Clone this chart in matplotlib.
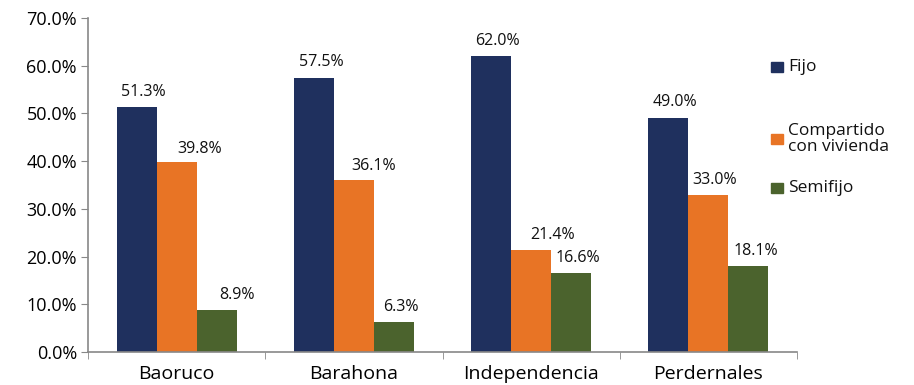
import matplotlib
matplotlib.use("Agg")
import matplotlib.pyplot as plt
import numpy as np
from matplotlib.patches import Rectangle

categories = ["Baoruco", "Barahona", "Independencia", "Perdernales"]
series_names = ["Fijo", "Compartido\ncon vivienda", "Semifijo"]
fijo = [51.3, 57.5, 62.0, 49.0]
compartido = [39.8, 36.1, 21.4, 33.0]
semifijo = [8.9, 6.3, 16.6, 18.1]
yticks = [0, 10, 20, 30, 40, 50, 60, 70]

# label placement nudges (pixels), per series / category
label_dx = [[7, 7, 6, 7], [23, 20, 21, 6], [20, 7, 7, 7]]
label_dy = [[15, 16, 15, 16], [13, 14, 15, 15], [15, 15, 15, 15]]

colors = ["#1F305E", "#E87425", "#4B632D"]
plt.rcParams['font.family'] = ['Open Sans', 'DejaVu Sans']

fig = plt.figure(figsize=(9.14, 3.85), dpi=100)
ax = fig.add_axes([0.0963, 0.0857, 0.7757, 0.8673])

x = np.arange(len(categories))
w = 0.226
for i, (vals, c) in enumerate(zip([fijo, compartido, semifijo], colors)):
    pos = x + (i - 1) * w
    ax.bar(pos, vals, width=w, color=c, edgecolor='none')
    for j, (p, v) in enumerate(zip(pos, vals)):
        ax.annotate(f"{v:.1f}%", (p, v), xytext=(label_dx[i][j], label_dy[i][j]),
                    textcoords='offset pixels', ha='center', va='center',
                    fontsize=11.5, color='#111111')

ax.set_xlim(-0.5, len(categories) - 0.5)
ax.set_ylim(0, 70)
ax.set_yticks(yticks)
ax.set_yticklabels([f"{t:.1f}%" for t in yticks], fontsize=13)
ax.set_xticks(x)
ax.set_xticklabels(categories, fontsize=14)
ax.set_xticks(np.arange(len(categories) + 1) - 0.5, minor=True)
ax.tick_params(axis='x', which='major', length=0, pad=9)
ax.tick_params(axis='x', which='minor', length=5, color='#888888', direction='out')
ax.tick_params(axis='y', length=5, color='#888888', pad=3)
for s in ['top', 'right']:
    ax.spines[s].set_visible(False)
for s in ['left', 'bottom']:
    ax.spines[s].set_color('#888888')
    ax.spines[s].set_linewidth(1.2)

# legend
W, H = 914, 385
legend_y = [67, 139, 188]
for name, c, yy in zip(series_names, colors, legend_y):
    fig.patches.append(Rectangle((771 / W, 1 - (yy + 5) / H), 12 / W, 10 / H,
                                 transform=fig.transFigure, color=c))
    fig.text(788 / W, 1 - yy / H, name, fontsize=12.5, va='center', ha='left',
             linespacing=1.05, color='#111111')

fig.savefig("out.png", dpi=100)
